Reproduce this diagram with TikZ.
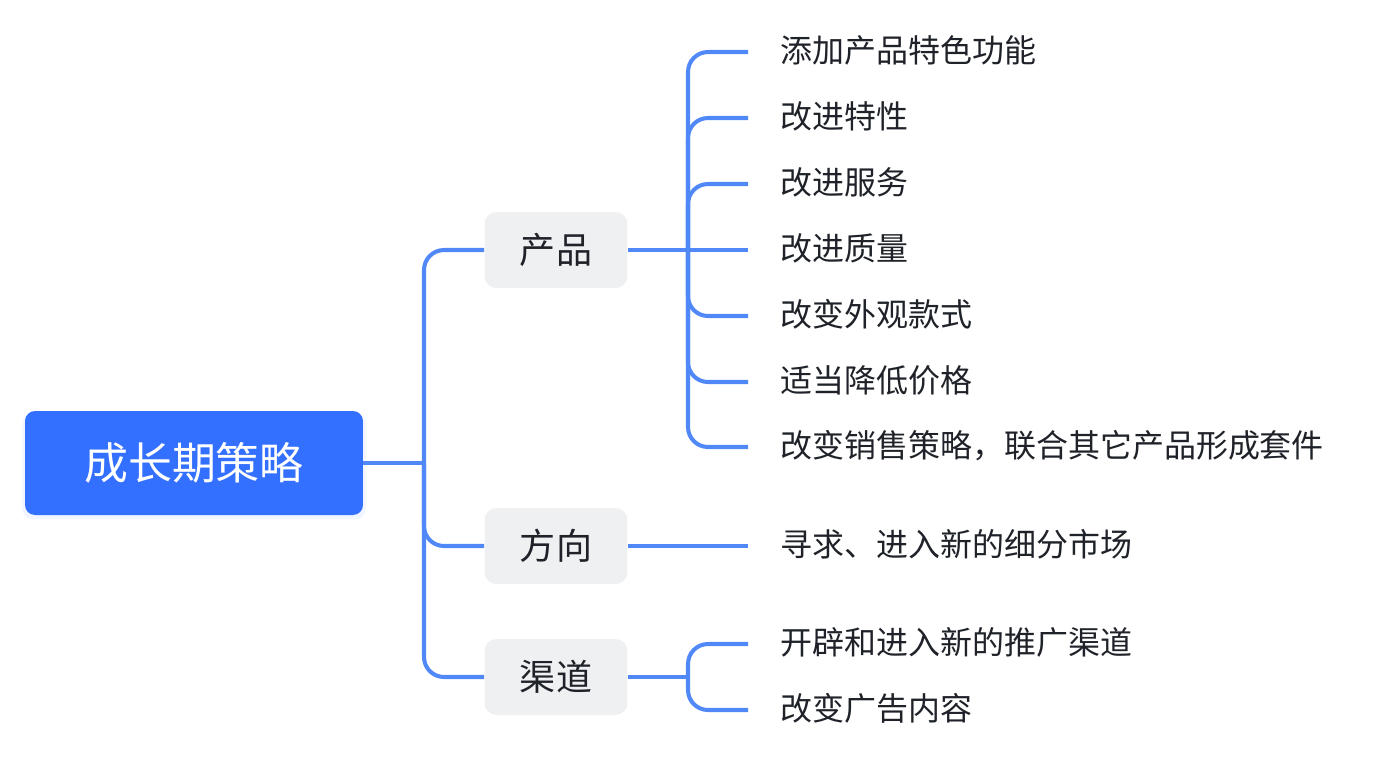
\documentclass[tikz,border=0pt]{standalone}
\usepackage{fontspec}
\setmainfont{Noto Sans CJK SC}
\usepackage{tikz}
\usetikzlibrary{shadows}
\usepackage{xcolor}
\definecolor{rootblue}{HTML}{3370FF}
\definecolor{linkblue}{HTML}{5088F8}
\definecolor{boxgray}{HTML}{EFF0F2}
\definecolor{inkdark}{HTML}{1F2329}

\begin{document}
\begin{tikzpicture}[x=0.02cm,y=-0.02cm,
  rootbox/.style={fill=rootblue,text=white,rounded corners=0.2cm,minimum width=6.76cm,minimum height=2.08cm,
    font=\fontsize{25}{30}\selectfont,inner sep=0pt,
    general shadow={shadow scale=1.015,shadow yshift=-2pt,fill=rootblue,opacity=0.07}},
  topicbox/.style={fill=boxgray,text=inkdark,rounded corners=0.24cm,minimum width=2.86cm,minimum height=1.52cm,
    font=\fontsize{20.5}{24}\selectfont,inner sep=0pt},
  leaf/.style={anchor=west,text=inkdark,font=\fontsize{18.2}{22}\selectfont,inner xsep=0.64cm,inner ysep=0pt,
    text height=1.2em,text depth=0em},
  link/.style={draw=linkblue,line width=2.3pt},
  curvedlink/.style={link,rounded corners=0.4cm}]
\useasboundingbox (0,0) rectangle (1380,762);
% root and first level
\node[rootbox] (root) at (194,463) {成长期策略};
\node[topicbox] (prod) at (556,250) {产品};
\node[topicbox] (dir) at (556,546) {方向};
\node[topicbox] (chan) at (556,677) {渠道};
\coordinate (rootfork) at (424,463);
\coordinate (prodfork) at (688,250);
\coordinate (chanfork) at (688,677);
% leaves
\node[leaf] (p1) at (748,52) {添加产品特色功能};
\node[leaf] (p2) at (748,118) {改进特性};
\node[leaf] (p3) at (748,184) {改进服务};
\node[leaf] (p4) at (748,250) {改进质量};
\node[leaf] (p5) at (748,316) {改变外观款式};
\node[leaf] (p6) at (748,382) {适当降低价格};
\node[leaf] (p7) at (748,447) {改变销售策略，联合其它产品形成套件};
\node[leaf] (d1) at (748,546) {寻求、进入新的细分市场};
\node[leaf] (c1) at (748,644) {开辟和进入新的推广渠道};
\node[leaf] (c2) at (748,710) {改变广告内容};
% connectors
\draw[link] (root.east) -- (rootfork);
\draw[curvedlink] (rootfork) |- (prod.west);
\draw[curvedlink] (rootfork) |- (dir.west);
\draw[curvedlink] (rootfork) |- (chan.west);
\draw[link] (prod.east) -- (prodfork);
\draw[curvedlink] (prodfork) |- (p1.west);
\draw[curvedlink] (prodfork) |- (p2.west);
\draw[curvedlink] (prodfork) |- (p3.west);
\draw[link] (prodfork) -- (p4.west);
\draw[curvedlink] (prodfork) |- (p5.west);
\draw[curvedlink] (prodfork) |- (p6.west);
\draw[curvedlink] (prodfork) |- (p7.west);
\draw[link] (dir.east) -- (d1.west);
\draw[link] (chan.east) -- (chanfork);
\draw[curvedlink] (chanfork) |- (c1.west);
\draw[curvedlink] (chanfork) |- (c2.west);
\end{tikzpicture}
\end{document}
